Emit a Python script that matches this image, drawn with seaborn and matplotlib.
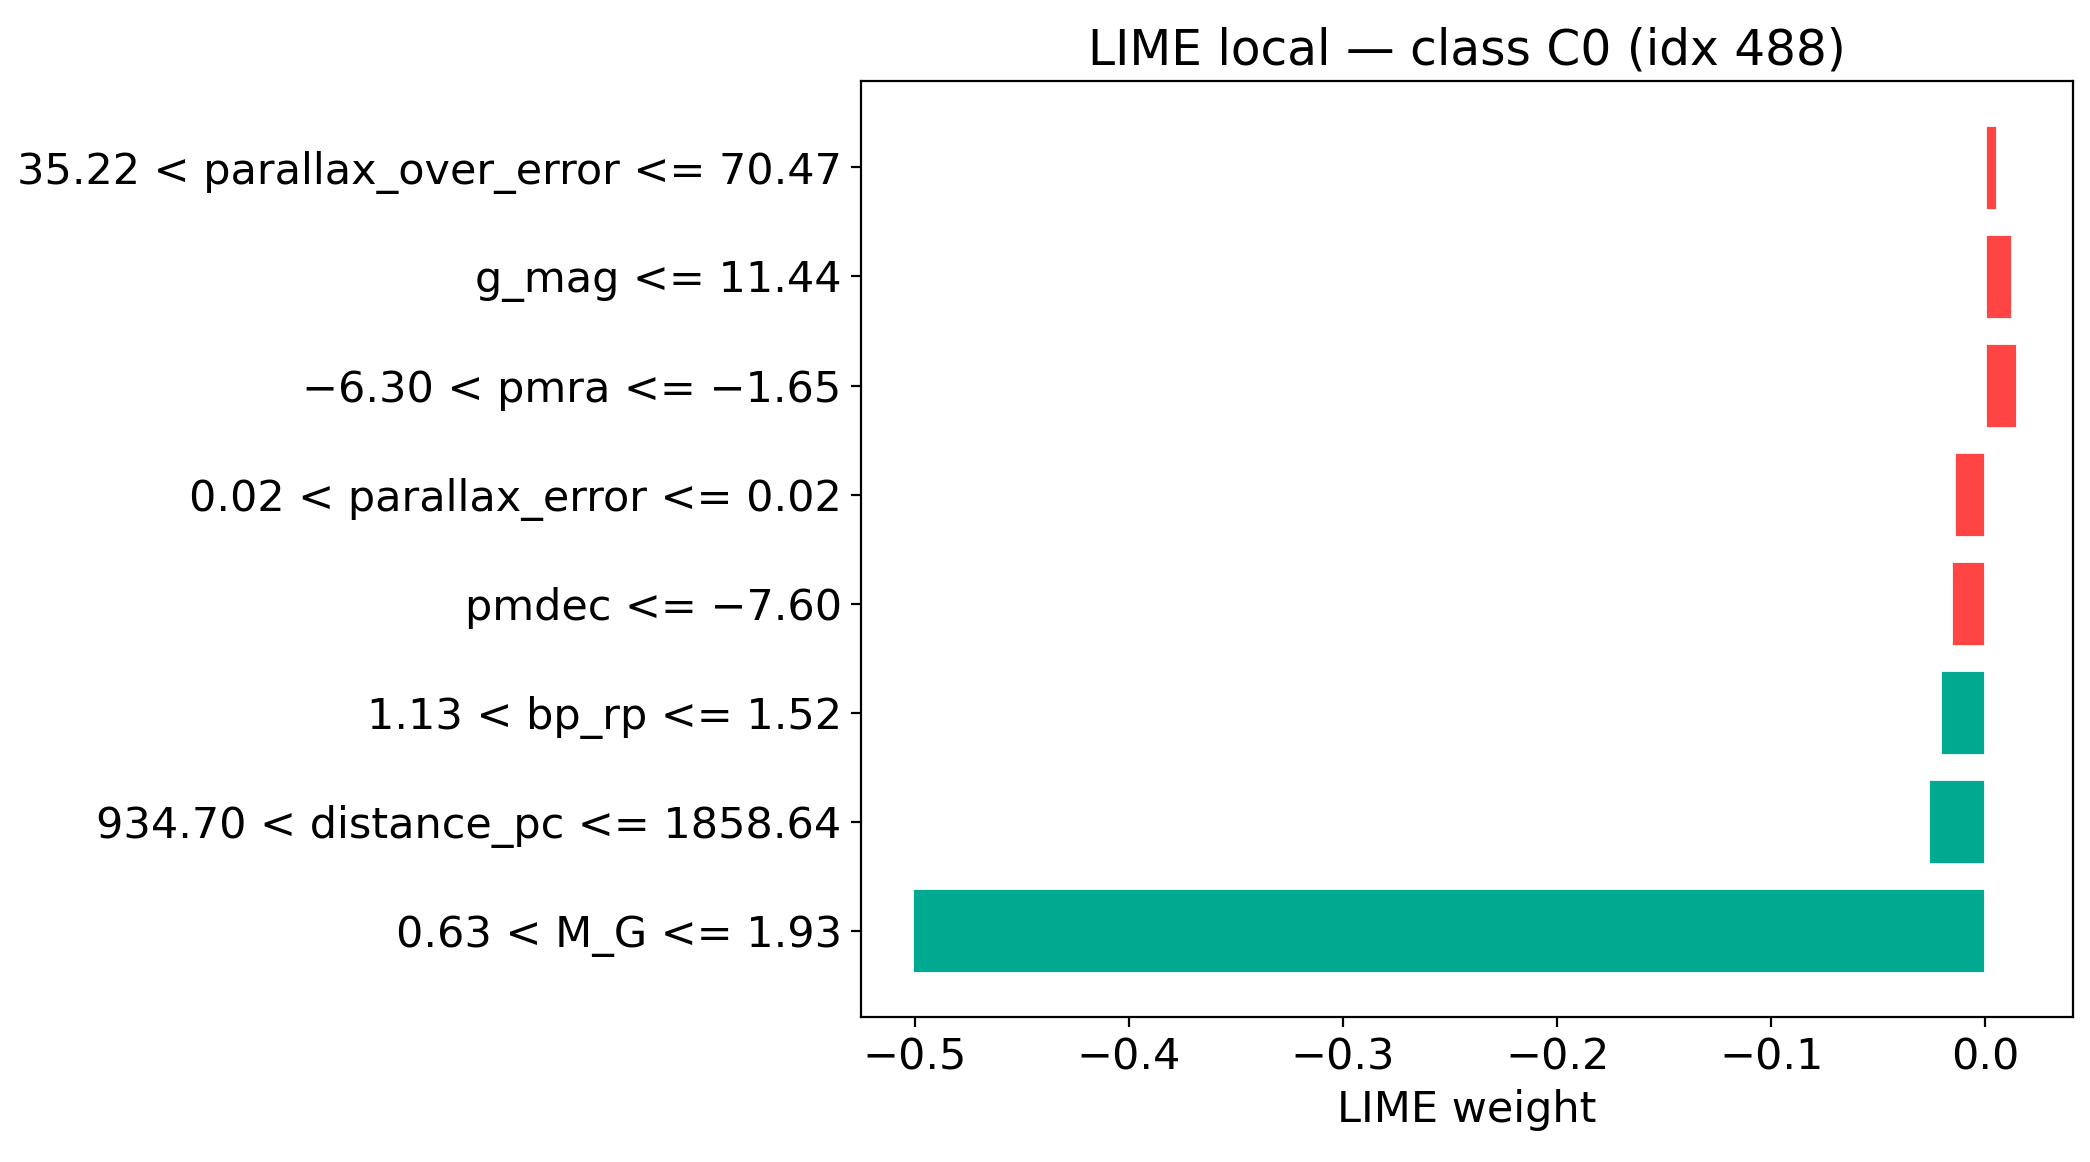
import numpy as np
import pandas as pd
import matplotlib
matplotlib.use("Agg")
import matplotlib.pyplot as plt
import seaborn as sns

# Feature conditions (top to bottom) and their LIME weights
features = ["35.22 < parallax_over_error <= 70.47",
            "g_mag <= 11.44",
            "\u22126.30 < pmra <= \u22121.65",
            "0.02 < parallax_error <= 0.02",
            "pmdec <= \u22127.60",
            "1.13 < bp_rp <= 1.52",
            "934.70 < distance_pc <= 1858.64",
            "0.63 < M_G <= 1.93"]
weights = [0.0056, 0.0125, 0.0145, -0.0145, -0.016, -0.021, -0.027, -0.501]
groups = ["red", "red", "red", "red", "red", "green", "green", "green"]

df = pd.DataFrame({"feature": features, "weight": weights, "group": groups})

sns.set_style("ticks")
plt.rcParams['font.family'] = ['DejaVu Sans']
plt.rcParams['text.color'] = 'black'
plt.rcParams['axes.labelcolor'] = 'black'
plt.rcParams['xtick.color'] = 'black'
plt.rcParams['ytick.color'] = 'black'

fig = plt.figure(figsize=(10.45, 5.81), dpi=200)
ax = fig.add_axes([0.412, 0.125, 0.58, 0.805])
sns.barplot(data=df, x="weight", y="feature", hue="group", orient="h",
            palette={"red": "#FF4444", "green": "#00A98F"}, dodge=False,
            saturation=1, width=0.78, legend=False, ax=ax)
ax.set_xlim(-0.525, 0.041)
ax.set_ylim(7.79, -0.79)
ax.set_xticks([-0.5, -0.4, -0.3, -0.2, -0.1, 0.0])
ax.set_xticklabels(["\u22120.5", "\u22120.4", "\u22120.3", "\u22120.2", "\u22120.1", "0.0"])
ax.tick_params(labelsize=15.5)
ax.set_xlabel("LIME weight", fontsize=15.5)
ax.set_ylabel("")
ax.set_title("LIME local \u2014 class C0 (idx 488)", fontsize=17.5)
for s in ax.spines.values():
    s.set_visible(True)
    s.set_color("black")
fig.savefig("out.png", dpi=200)
